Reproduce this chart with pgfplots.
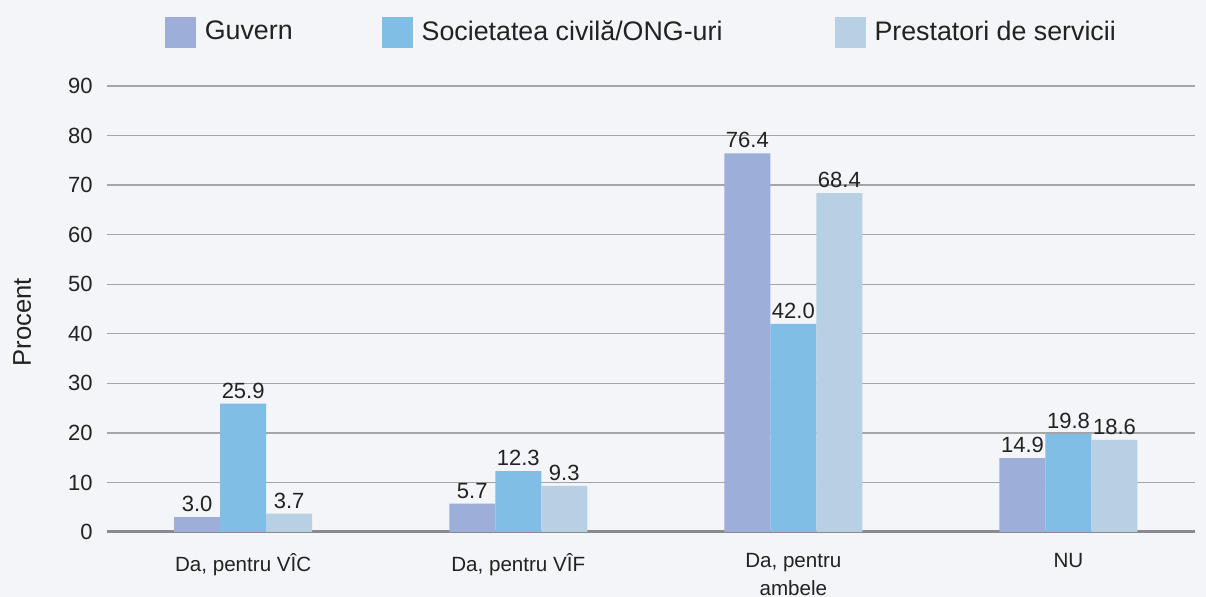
\documentclass[border=0pt]{standalone}
\usepackage{pgfplots}
\pgfplotsset{compat=1.18}
\usepackage{fontspec}
\setmainfont{Liberation Sans}
\definecolor{bg}{HTML}{F4F5F9}
\definecolor{cA}{HTML}{9DAED8}
\definecolor{cB}{HTML}{80BEE6}
\definecolor{cC}{HTML}{B8D0E4}
\definecolor{gridc}{HTML}{A5A5A8}
\definecolor{axc}{HTML}{8A8A8E}
\definecolor{txt}{HTML}{222222}
\begin{document}
\begin{tikzpicture}[x=1pt,y=1pt]
\fill[bg] (0,0) rectangle (603,298.5);
\useasboundingbox (0,0) rectangle (603,298.5);
\begin{axis}[
  at={(53.5pt,32.5pt)}, anchor=south west,
  scale only axis, width=544pt, height=223pt,
  ymin=0, ymax=90, xmin=-0.495, xmax=3.46,
  ybar=0pt, bar width=23pt,
  axis x line=bottom, axis y line=left,
  x axis line style={-, draw=axc, line width=1.5pt},
  y axis line style={draw=none},
  ymajorgrids, grid style={draw=gridc, line width=0.7pt},
  major tick length=0pt,
  ytick={0,10,...,90},
  xtick={0,1,2,3},
  xticklabels={{Da, pentru VÎC},{Da, pentru VÎF},{Da, pentru\\ambele},{NU}},
  xticklabel style={align=center, font=\fontsize{10.3}{14}\selectfont, text=txt, inner sep=0pt, yshift=-10.5pt},
  yticklabel style={font=\fontsize{11}{13}\selectfont, text=txt, inner sep=0pt, xshift=-7pt},
  /pgf/number format/assume math mode=true,
  ylabel={Procent},
  ylabel style={at={(axis description cs:-0.078,0.47)}, anchor=center, font=\fontsize{12.8}{15}\selectfont, text=txt},
  nodes near coords={\pgfmathprintnumber[fixed,fixed zerofill,precision=1,assume math mode=true]{\pgfplotspointmeta}},
  every node near coord/.append style={font=\fontsize{11}{13}\selectfont, text=txt, inner sep=2.5pt},
  legend style={at={(axis description cs:0.492,1.121)}, anchor=center, draw=none, fill=none,
    font=\fontsize{13.4}{16}\selectfont, text=txt,
    /tikz/every odd column/.append style={column sep=2.5pt},
    /tikz/column 2/.style={column sep=42.5pt},
    /tikz/column 4/.style={column sep=54pt}},
  legend columns=3,
]
\addplot[fill=cA, draw=none, legend image code/.code={\fill[cA] (0pt,-7.75pt) rectangle (15.5pt,7.75pt);}] coordinates {(0,3.0) (1,5.7) (2,76.4) (3,14.9)};
\addplot[fill=cB, draw=none, legend image code/.code={\fill[cB] (0pt,-7.75pt) rectangle (15.5pt,7.75pt);}] coordinates {(0,25.9) (1,12.3) (2,42.0) (3,19.8)};
\addplot[fill=cC, draw=none, legend image code/.code={\fill[cC] (0pt,-7.75pt) rectangle (15.5pt,7.75pt);}] coordinates {(0,3.7) (1,9.3) (2,68.4) (3,18.6)};
\legend{Guvern, Societatea civilă/ONG-uri, Prestatori de servicii}
\end{axis}
\end{tikzpicture}
\end{document}
